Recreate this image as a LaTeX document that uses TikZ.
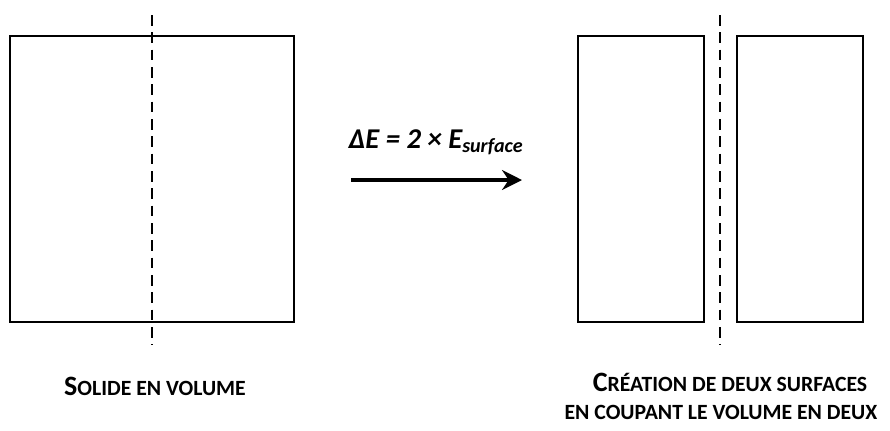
\documentclass[tikz,border=0pt]{standalone}
\usepackage{fontspec}
\setmainfont{Carlito}
\usetikzlibrary{arrows.meta}
\tikzset{bloc/.style={draw,line width=2.1pt},
  coupe/.style={line width=2.1pt,dash pattern=on 8pt off 5pt},
  legende/.style={font=\fontsize{16.3}{18}\selectfont\bfseries,inner sep=0pt}}
\newcommand{\petitcap}[2]{{\fontsize{21}{22}\selectfont #1}#2}

\begin{document}
\begin{tikzpicture}[x=0.75pt,y=-0.75pt]
  \useasboundingbox (0,0) rectangle (890,430);
  % solide entier
  \draw[bloc] (10,36) rectangle (294,322);
  \draw[coupe] (152,15)--(152,345);
  % solide coupe
  \draw[bloc] (578,36) rectangle (704,322);
  \draw[bloc] (737,36) rectangle (863,322);
  \draw[coupe] (720,15)--(720,345);
  % fleche
  \coordinate (depart) at (351,180);
  \coordinate (arrivee) at (522,180);
  \draw[line width=2.3pt,-{Stealth[length=15pt,width=15pt,inset=5pt]}] (depart)--(arrivee);
  \node[font=\fontsize{21.5}{23}\selectfont\bfseries\itshape] (energie) at (436,142)
    {ΔE = 2 × E\textsubscript{surface}};
  \node[legende] (solide) at (155,386) {\petitcap{S}{OLIDE EN VOLUME}};
  \node[legende] (creation) at (730,382) {\petitcap{C}{RÉATION DE DEUX SURFACES}};
  \node[legende] (coupant) at (721,412) {EN COUPANT LE VOLUME EN DEUX};
\end{tikzpicture}
\end{document}
